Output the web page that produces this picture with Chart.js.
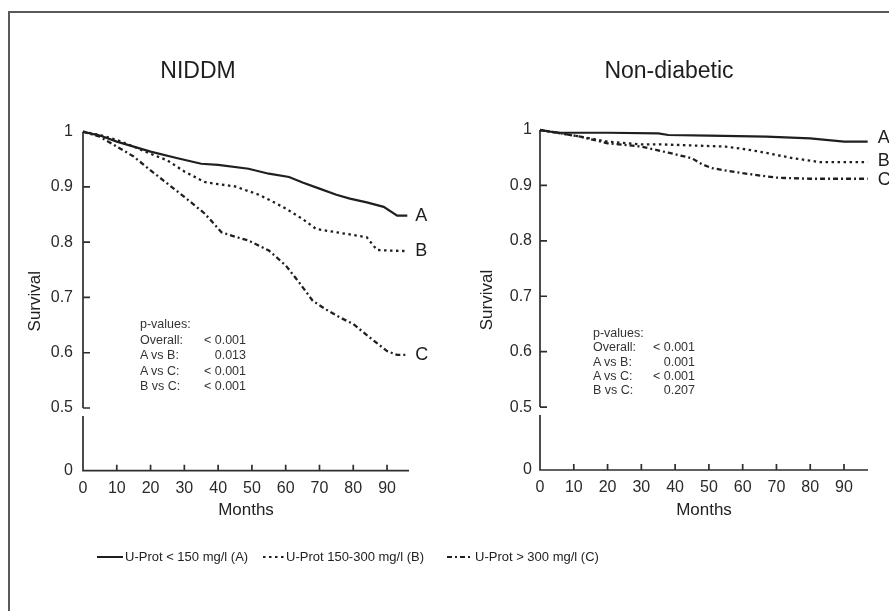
<!DOCTYPE html>
<html lang="en">
<head>
  <meta charset="UTF-8" />
  <title>Survival by U-Prot</title>
  <script src="https://cdn.jsdelivr.net/npm/chart.js"></script>
  <style>
    body {
      margin: 0;
      width: 889px;
      height: 611px;
      background: #fff;
      position: relative;
      overflow: hidden;
      font-family: 'Liberation Sans', Arial, sans-serif;
      color: #222;
    }
    .frame {
      position: absolute;
      left: 8px;
      top: 11px;
      width: 900px;
      height: 620px;
      border-top: 2px solid #5a5a5a;
      border-left: 2px solid #5a5a5a;
    }
    canvas { position: absolute; top: 0; }
    #niddm { left: 0; }
    #nondiab { left: 450px; }
    .title {
      position: absolute;
      font-size: 23px;
      line-height: 28px;
      top: 56px;
      transform: translateX(-50%);
      white-space: nowrap;
      color: #1e1e1e;
    }
    .pvals {
      position: absolute;
      font-size: 12.5px;
      color: #333;
    }
    .pvals div { position: relative; white-space: nowrap; }
    .pvals span.v { position: absolute; right: 0; }
    .legend {
      position: absolute;
      top: 548px;
      left: 97px;
      font-size: 13px;
      line-height: 18px;
      color: #222;
      white-space: nowrap;
    }
    .legend-item { position: absolute; top: 0; display: flex; align-items: center; }
    .legend-item svg { margin-right: 2px; }
  </style>
</head>
<body>
  <div class="frame"></div>
  <canvas id="niddm" width="450" height="611"></canvas>
  <canvas id="nondiab" width="439" height="611"></canvas>

  <div class="title" style="left:198px">NIDDM</div>
  <div class="title" style="left:669px">Non-diabetic</div>

  <div class="pvals" id="pLeft" style="left:140px; top:317px; width:106px; line-height:15.5px"></div>
  <div class="pvals" id="pRight" style="left:593px; top:326px; width:102px; line-height:14.3px"></div>

  <div class="legend" id="legend"></div>

  <script>
    // --- data ---
    const groupNames = ['A', 'B', 'C'];
    const legendLabels = ['U-Prot < 150 mg/l (A)', 'U-Prot 150-300 mg/l (B)', 'U-Prot > 300 mg/l (C)'];
    const xTicks = [0, 10, 20, 30, 40, 50, 60, 70, 80, 90];
    const yTicks = [0.5, 0.6, 0.7, 0.8, 0.9, 1];

    // NIDDM
    const niddmMonthsA = [0, 5, 10, 20, 28, 35, 40, 49, 55, 61, 65, 70, 75, 79, 84, 89, 93, 96];
    const niddmSurvA   = [1, 0.993, 0.982, 0.964, 0.952, 0.942, 0.940, 0.933, 0.924, 0.918, 0.908, 0.897, 0.886, 0.879, 0.872, 0.864, 0.848, 0.848];
    const niddmMonthsB = [0, 5, 10, 15, 20, 25, 30, 36, 40, 45, 52, 56, 60, 65, 69, 74, 78, 84, 87, 90, 96];
    const niddmSurvB   = [1, 0.994, 0.985, 0.973, 0.960, 0.948, 0.928, 0.909, 0.905, 0.901, 0.886, 0.874, 0.861, 0.842, 0.824, 0.819, 0.815, 0.809, 0.786, 0.785, 0.784];
    const niddmMonthsC = [0, 5, 10, 15, 20, 25, 30, 36, 41, 45, 49, 55, 60, 64, 68, 72, 76, 80, 85, 90, 93, 96];
    const niddmSurvC   = [1, 0.991, 0.973, 0.955, 0.930, 0.906, 0.882, 0.852, 0.818, 0.810, 0.803, 0.785, 0.758, 0.727, 0.694, 0.678, 0.664, 0.652, 0.627, 0.603, 0.596, 0.596];

    // Non-diabetic
    const nondMonthsA = [0, 3, 6, 20, 35, 38, 50, 67, 80, 90, 97];
    const nondSurvA   = [1, 0.997, 0.995, 0.995, 0.994, 0.991, 0.990, 0.988, 0.985, 0.979, 0.979];
    const nondMonthsB = [0, 3, 6, 12, 20, 30, 36, 55, 60, 65, 70, 75, 83, 97];
    const nondSurvB   = [1, 0.997, 0.994, 0.988, 0.979, 0.974, 0.974, 0.970, 0.966, 0.961, 0.955, 0.949, 0.942, 0.942];
    const nondMonthsC = [0, 3, 6, 12, 20, 30, 38, 45, 48, 51, 60, 70, 80, 97];
    const nondSurvC   = [1, 0.997, 0.994, 0.988, 0.976, 0.970, 0.959, 0.949, 0.938, 0.931, 0.922, 0.914, 0.912, 0.912];

    const pLabels = ['p-values:', 'Overall:', 'A vs B:', 'A vs C:', 'B vs C:'];
    const pNiddm  = ['', '< 0.001', '0.013', '< 0.001', '< 0.001'];
    const pNond   = ['', '< 0.001', '0.001', '< 0.001', '0.207'];

    // --- styles ---
    const ink = '#1f1f1f';
    const dashes = [[], [2.5, 3.5], [5, 3, 2, 3]];
    const zeroPos = 0.3865; // where "0" sits below the axis break

    function toPoints(xs, ys) {
      return xs.map((m, i) => ({ x: m, y: ys[i] }));
    }

    // axis lines with the break, inward tick marks, and A/B/C end labels
    const kmDecor = {
      id: 'kmDecor',
      beforeDatasetsDraw(chart) {
        const { ctx, chartArea } = chart;
        const xs = chart.scales.x, ys = chart.scales.y;
        const x0 = xs.getPixelForValue(0);
        const yHalf = ys.getPixelForValue(0.5);
        ctx.save();
        ctx.strokeStyle = '#2e2e2e';
        ctx.lineWidth = 1.7;
        ctx.beginPath();
        ctx.moveTo(x0, ys.getPixelForValue(1));
        ctx.lineTo(x0, yHalf);
        ctx.moveTo(x0, yHalf + 8);
        ctx.lineTo(x0, chartArea.bottom);
        ctx.lineTo(chartArea.right, chartArea.bottom);
        yTicks.forEach(v => {
          if (v >= 1) return;
          const py = ys.getPixelForValue(v);
          ctx.moveTo(x0, py);
          ctx.lineTo(x0 + 7, py);
        });
        xTicks.forEach(v => {
          if (v <= 0) return;
          const px = xs.getPixelForValue(v);
          ctx.moveTo(px, chartArea.bottom);
          ctx.lineTo(px, chartArea.bottom - 6);
        });
        ctx.stroke();
        ctx.restore();
      },
      afterDatasetsDraw(chart, args, opts) {
        const { ctx } = chart;
        ctx.save();
        ctx.fillStyle = ink;
        ctx.font = '18px "Liberation Sans", Arial, sans-serif';
        ctx.textBaseline = 'middle';
        chart.data.datasets.forEach((ds, i) => {
          const pts = chart.getDatasetMeta(i).data;
          const last = pts[pts.length - 1];
          ctx.fillText(ds.label, last.x + opts.gap, last.y + (opts.shift ? opts.shift[i] : 0));
        });
        ctx.restore();
      }
    };

    function makeChart(id, series, cfg) {
      const tickFont = { family: "'Liberation Sans', Arial, sans-serif", size: 16 };
      const titleFont = { family: "'Liberation Sans', Arial, sans-serif", size: 17 };
      return new Chart(document.getElementById(id), {
        type: 'line',
        data: {
          datasets: series.map((pts, i) => ({
            label: groupNames[i],
            data: pts,
            borderColor: ink,
            borderWidth: i === 0 ? 2.2 : 2.3,
            borderDash: dashes[i],
            pointRadius: 0,
            tension: 0,
            clip: false
          }))
        },
        options: {
          responsive: false,
          animation: false,
          layout: { padding: cfg.padding },
          plugins: {
            legend: { display: false },
            tooltip: { enabled: false },
            kmDecor: { gap: cfg.gap, shift: cfg.shift }
          },
          scales: {
            x: {
              type: 'linear',
              min: 0,
              max: cfg.xMax,
              afterBuildTicks: s => { s.ticks = xTicks.map(v => ({ value: v })); },
              afterFit: s => { s.height = cfg.xHeight; },
              ticks: { font: tickFont, color: '#2a2a2a', padding: 8, autoSkip: false, maxRotation: 0 },
              grid: { display: false, drawTicks: false },
              border: { display: false },
              title: { display: true, text: 'Months', font: titleFont, color: '#222', padding: 0 }
            },
            y: {
              type: 'linear',
              min: zeroPos,
              max: 1,
              afterBuildTicks: s => { s.ticks = [zeroPos, ...yTicks].map(v => ({ value: v })); },
              afterFit: s => { s.width = cfg.yWidth; },
              ticks: {
                font: tickFont,
                color: '#2a2a2a',
                padding: cfg.yPad,
                autoSkip: false,
                callback: v => (v === zeroPos ? '0' : String(v))
              },
              grid: { display: false, drawTicks: false },
              border: { display: false },
              title: { display: true, text: 'Survival', font: titleFont, color: '#222', padding: 0 }
            }
          }
        },
        plugins: [kmDecor]
      });
    }

    makeChart('niddm', [
      toPoints(niddmMonthsA, niddmSurvA),
      toPoints(niddmMonthsB, niddmSurvB),
      toPoints(niddmMonthsC, niddmSurvC)
    ], {
      padding: { left: 24.8, top: 131.7, right: 41, bottom: 90.8 },
      yWidth: 58.2, xHeight: 49.5, xMax: 96.5, yPad: 10, gap: 8
    });

    makeChart('nondiab', [
      toPoints(nondMonthsA, nondSurvA),
      toPoints(nondMonthsB, nondSurvB),
      toPoints(nondMonthsC, nondSurvC)
    ], {
      padding: { left: 26.8, top: 130, right: 21, bottom: 90.8 },
      yWidth: 63.2, xHeight: 50.2, xMax: 97.1, yPad: 8, gap: 10, shift: [-4, -1, 1]
    });

    // p-value boxes
    function fillP(id, values) {
      const box = document.getElementById(id);
      pLabels.forEach((lab, i) => {
        const row = document.createElement('div');
        row.textContent = lab;
        const v = document.createElement('span');
        v.className = 'v';
        v.textContent = values[i];
        row.appendChild(v);
        box.appendChild(row);
      });
    }
    fillP('pLeft', pNiddm);
    fillP('pRight', pNond);

    // legend with line samples
    const legendX = [0, 166, 350];
    const sampleW = [26, 21, 26];
    const legend = document.getElementById('legend');
    legendLabels.forEach((lab, i) => {
      const item = document.createElement('div');
      item.className = 'legend-item';
      item.style.left = legendX[i] + 'px';
      const w = sampleW[i];
      item.innerHTML =
        '<svg width="' + w + '" height="18"><line x1="0" y1="9" x2="' + w + '" y2="9" stroke="' + ink +
        '" stroke-width="2" stroke-dasharray="' + (dashes[i].length ? dashes[i].join(' ') : 'none') + '"/></svg>';
      item.appendChild(document.createTextNode(lab));
      legend.appendChild(item);
    });
  </script>
</body>
</html>
